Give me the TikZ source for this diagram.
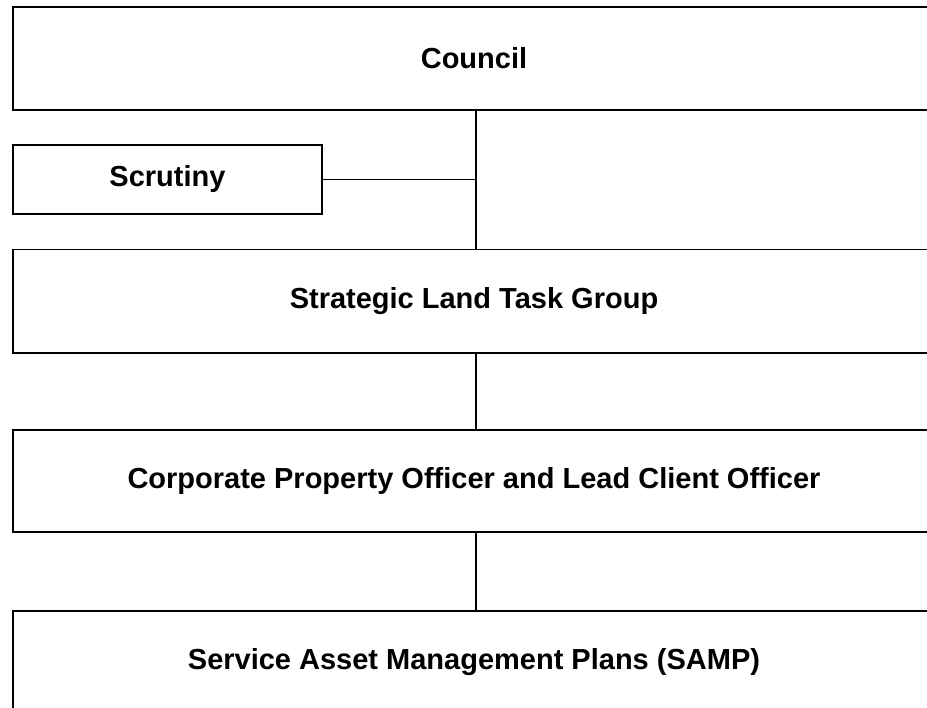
\documentclass[tikz,border=0pt]{standalone}
\usepackage{fontspec}
\setmainfont{Liberation Sans}
\begin{document}
\begin{tikzpicture}[x=1pt,y=-1pt,
  box/.style={draw=black, line width=1.6pt, rectangle, inner sep=0pt,
    font=\bfseries\fontsize{29}{35}\selectfont, align=center},
  wide/.style={box, minimum width=922pt, minimum height=103pt},
  link/.style={draw=black, line width=1.6pt}]
\useasboundingbox (0,0) rectangle (927,708);
\clip (0,0) rectangle (927,708);
\fill[white] (0,0) rectangle (927,708);
\node[wide] (council) at (474,58.5) {Council};
\node[box, minimum width=309pt, minimum height=69pt] (scrutiny) at (167.5,179.5) {Scrutiny};
\node[wide, minimum height=103.5pt] (slt) at (474,301.25) {Strategic Land Task Group};
\node[wide, minimum height=102pt] (cpo) at (474,481) {Corporate Property Officer and Lead Client Officer};
\node[wide] (samp) at (474,662.5) {Service Asset Management Plans (SAMP)};
\coordinate (spine) at (476,0);
\draw[link] (council.south -| spine) -- (slt.north -| spine);
\draw[link] (scrutiny.east) -- (scrutiny.east -| spine);
\draw[link] (slt.south -| spine) -- (cpo.north -| spine);
\draw[link] (cpo.south -| spine) -- (samp.north -| spine);
\end{tikzpicture}
\end{document}
